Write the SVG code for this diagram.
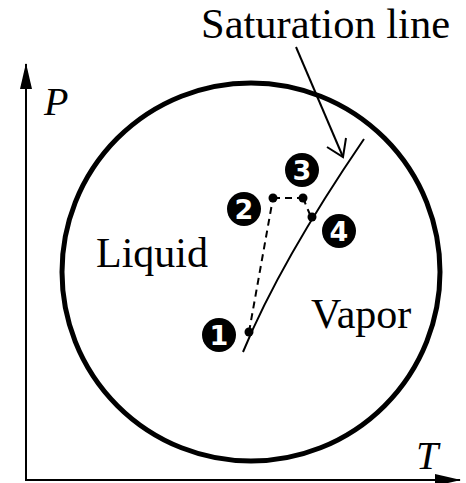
<svg xmlns="http://www.w3.org/2000/svg" width="466" height="483" viewBox="0 0 466 483">
<style>
.lbl{font-family:"Liberation Serif","Times New Roman",serif;font-size:42px;fill:#000}
.it{font-family:"Liberation Serif","Times New Roman",serif;font-style:italic;font-size:40px;fill:#000}
.badge circle{fill:#000}
.badge text{font-family:"DejaVu Sans","Liberation Sans",sans-serif;font-weight:bold;font-size:27px;fill:#fff;text-anchor:middle}
.dot{fill:#000}
.dash{stroke:#000;stroke-width:2;stroke-dasharray:7,5;fill:none}
</style>
<defs>
<marker id="ah" markerWidth="26" markerHeight="12" refX="25" refY="6" orient="auto" markerUnits="userSpaceOnUse">
<path d="M0,0 L26,6 L0,12 Z" fill="#000"/>
</marker>
</defs>
<rect width="466" height="483" fill="#fff"/>
<g id="axes">
<line x1="26" y1="481" x2="26" y2="64" stroke="#000" stroke-width="2" marker-end="url(#ah)"/>
<line x1="25" y1="480" x2="460" y2="480" stroke="#000" stroke-width="2" marker-end="url(#ah)"/>
<text class="it" x="44" y="115">P</text>
<text class="it" x="416" y="469">T</text>
</g>
<g id="boundary">
<circle cx="251" cy="272" r="189" fill="none" stroke="#000" stroke-width="5"/>
</g>
<g id="labels">
<text class="lbl" x="96" y="267">Liquid</text>
<text class="lbl" x="311" y="328">Vapor</text>
<text class="lbl" x="201" y="38" textLength="249" lengthAdjust="spacingAndGlyphs">Saturation line</text>
</g>
<g id="connectors">
<path id="saturation-line" d="M243,352 Q280,262 364,139" fill="none" stroke="#000" stroke-width="2"/>
<line class="dash" x1="249" y1="332" x2="273" y2="198"/>
<line class="dash" x1="273" y1="198" x2="303" y2="198"/>
<line class="dash" x1="303" y1="198" x2="311" y2="217"/>
<line x1="296" y1="47" x2="343" y2="157" stroke="#000" stroke-width="2"/>
<polyline points="327,147 343,157 346,138" fill="none" stroke="#000" stroke-width="2"/>
</g>
<g id="points">
<circle class="dot" cx="249" cy="332" r="4.5"/>
<circle class="dot" cx="273" cy="198" r="4.5"/>
<circle class="dot" cx="303" cy="198" r="4.5"/>
<circle class="dot" cx="312" cy="217" r="4.5"/>
</g>
<g id="badge1" class="badge"><circle cx="219" cy="335" r="17"/><text x="219" y="345">1</text></g>
<g id="badge2" class="badge"><circle cx="244" cy="209" r="17"/><text x="244" y="219">2</text></g>
<g id="badge3" class="badge"><circle cx="302" cy="170" r="17"/><text x="302" y="180">3</text></g>
<g id="badge4" class="badge"><circle cx="339" cy="231" r="17"/><text x="339" y="241">4</text></g>
</svg>
